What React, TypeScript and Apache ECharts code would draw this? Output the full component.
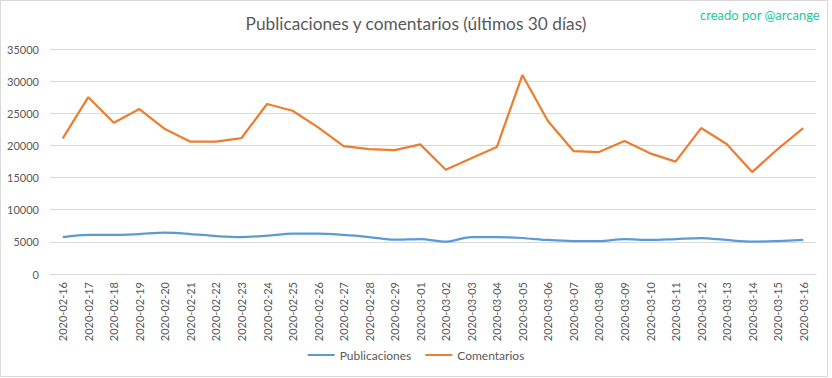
import React, { useEffect, useRef } from "react";
import * as echarts from "echarts";

const dates = [
  "2020-02-16", "2020-02-17", "2020-02-18", "2020-02-19", "2020-02-20", "2020-02-21",
  "2020-02-22", "2020-02-23", "2020-02-24", "2020-02-25", "2020-02-26", "2020-02-27",
  "2020-02-28", "2020-02-29", "2020-03-01", "2020-03-02", "2020-03-03", "2020-03-04",
  "2020-03-05", "2020-03-06", "2020-03-07", "2020-03-08", "2020-03-09", "2020-03-10",
  "2020-03-11", "2020-03-12", "2020-03-13", "2020-03-14", "2020-03-15", "2020-03-16",
];

const publicaciones = [
  5750, 6070, 6070, 6220, 6430, 6220, 5910, 5750, 5960, 6270, 6270, 6070, 5750, 5340, 5440,
  5030, 5750, 5750, 5600, 5290, 5130, 5130, 5440, 5290, 5440, 5600, 5290, 5030, 5130, 5290,
];

const comentarios = [
  21100, 27500, 23530, 25660, 22550, 20580, 20580, 21150, 26440, 25400, 22800, 19900, 19440,
  19280, 20170, 16220, 18000, 19750, 30950, 23800, 19130, 18970, 20680, 18770, 17470, 22700,
  20220, 15860, 19440, 22700,
];

const FONT = "Lato, 'Open Sans', sans-serif";

export default function App() {
  const ref = useRef<HTMLDivElement>(null);
  useEffect(() => {
    if (!ref.current) return;
    const chart = echarts.init(ref.current, null, { renderer: "svg" });
    chart.setOption({
      animation: false,
      backgroundColor: "#ffffff",
      textStyle: { fontFamily: FONT },
      title: {
        text: "Publicaciones y comentarios (últimos 30 días)",
        left: "center",
        top: 10,
        textStyle: { fontFamily: FONT, fontSize: 17.3, fontWeight: "normal", color: "#595959" },
      },
      graphic: [
        {
          type: "rect",
          shape: { x: 0.5, y: 0.5, width: 827, height: 376 },
          style: { fill: "none", stroke: "#D9D9D9", lineWidth: 1 },
          silent: true,
        },
        {
          type: "text",
          right: 12,
          top: 8,
          style: { text: "creado por @arcange", fill: "#1FC79A", font: `13px ${FONT}` },
        },
      ],
      legend: {
        bottom: 12,
        left: "center",
        itemWidth: 27,
        itemHeight: 2,
        itemGap: 14,
        icon: "rect",
        textStyle: { fontFamily: FONT, fontSize: 12, color: "#595959" },
        data: ["Publicaciones", "Comentarios"],
      },
      grid: { left: 50, right: 16, top: 49, bottom: 104, containLabel: false },
      xAxis: {
        type: "category",
        data: dates,
        boundaryGap: true,
        axisLine: { lineStyle: { color: "#D9D9D9" } },
        axisTick: { show: false },
        axisLabel: { rotate: 90, color: "#595959", fontSize: 11, fontFamily: FONT, interval: 0, margin: 8 },
      },
      yAxis: {
        type: "value",
        min: 0,
        max: 35000,
        interval: 5000,
        axisLine: { show: false },
        axisTick: { show: false },
        splitLine: { lineStyle: { color: "#D9D9D9" } },
        axisLabel: {
          color: "#595959",
          fontSize: 11,
          fontFamily: FONT,
          margin: 11,
          formatter: (v: number) => String(v),
        },
      },
      series: [
        {
          name: "Publicaciones",
          type: "line",
          data: publicaciones,
          smooth: 0.3,
          showSymbol: false,
          symbol: "none",
          lineStyle: { color: "#5B9BD5", width: 2.25 },
          itemStyle: { color: "#5B9BD5" },
        },
        {
          name: "Comentarios",
          type: "line",
          data: comentarios,
          showSymbol: false,
          symbol: "none",
          lineStyle: { color: "#ED7D31", width: 2.25 },
          itemStyle: { color: "#ED7D31" },
        },
      ],
    });
    return () => chart.dispose();
  }, []);
  return (
    <div
      ref={ref}
      style={{ position: "fixed", left: 0, top: 0, width: 832, height: 378 }}
    />
  );
}
